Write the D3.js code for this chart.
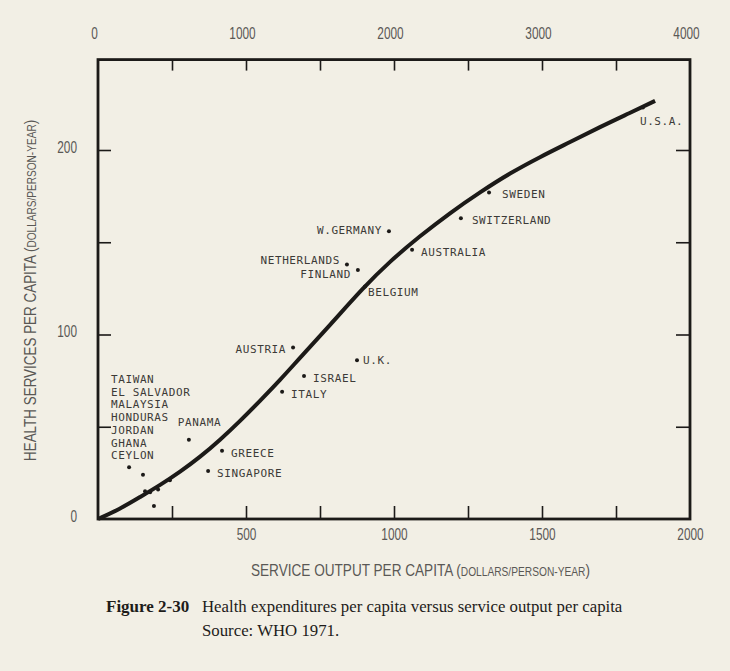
<!DOCTYPE html>
<html>
<head>
<meta charset="utf-8">
<script src="https://cdn.jsdelivr.net/npm/d3@7"></script>
<style>
  html, body { margin: 0; padding: 0; background: #f2efe5; }
  svg { display: block; }
</style>
</head>
<body>
<svg id="chart" width="730" height="671"></svg>
<script>
// ---- data ----
const countries = ["U.S.A.", "SWEDEN", "SWITZERLAND", "AUSTRALIA", "W.GERMANY", "NETHERLANDS",
  "FINLAND", "BELGIUM", "AUSTRIA", "U.K.", "ISRAEL", "ITALY", "PANAMA", "GREECE", "SINGAPORE"];
const serviceOutput = [1841, 1321, 1226, 1061, 983, 841, 878, 902, 659, 875, 696, 622, 307, 419, 372];
const healthSpend   = [223, 177, 163, 146, 156, 138, 135, 126, 93, 86, 77.5, 69, 43, 37, 26];
// label anchor side: "start" = right of point, "end" = left of point
const labelSide = ["below", "start", "start", "start", "end", "end", "end", "start", "end", "start",
  "start", "start", "above", "start", "start"];

const smallCountries = ["TAIWAN", "EL SALVADOR", "MALAYSIA", "HONDURAS", "JORDAN", "GHANA", "CEYLON"];
const smallOutput = [105, 152, 159, 203, 189, 243, 176];
const smallSpend  = [28, 24, 15, 16, 7, 21, 14.5];

const curveOutput = [0, 74, 142, 210, 277, 345, 412, 480, 547, 615, 682, 784, 895, 987, 1088, 1189, 1291, 1392, 1493, 1595, 1696, 1797, 1882];
const curveSpend  = [0, 5.4, 11.9, 18.4, 25.5, 33.6, 42.8, 53.1, 64, 75.3, 87.3, 105.1, 125.2, 139.8, 153.4, 165.9, 177.2, 187.5, 196.2, 204.3, 212.5, 220.1, 226.6];

const bottomTickLabels = [500, 1000, 1500, 2000];
const bottomMinorTicks = [250, 500, 750, 1000, 1250, 1500, 1750];
const topTickLabels = [0, 1000, 2000, 3000, 4000];
const topMinorTicks = [500, 1000, 1500, 2000, 2500, 3000, 3500];
const leftTickLabels = [0, 100, 200];
const sideTicks = [50, 100, 150, 200];

const xTitle = "SERVICE OUTPUT PER CAPITA ";
const yTitle = "HEALTH SERVICES PER CAPITA ";
const unitSmall = "DOLLARS/PERSON-YEAR";
const captionLabel = "Figure 2-30";
const captionText = "Health expenditures per capita versus service output per capita";
const captionSource = "Source: WHO 1971.";

// ---- layout ----
const svg = d3.select("#chart");
const leftX = 98, rightX = 690, bottomY = 519;
const x = d3.scaleLinear().domain([0, 2000]).range([leftX, rightX]);
const xTop = d3.scaleLinear().domain([0, 4000]).range([leftX, rightX]);
const y = d3.scaleLinear().domain([0, 200]).range([bottomY, 150]);
const yMax = 249;
const topY = y(yMax);

const ink = "#1c1a18";
const gray = "#5a5855";
const labelFont = "'DejaVu Sans Mono', monospace";
const tickFont = "'Liberation Sans', Arial, sans-serif";
// label horizontal gap from its point (style only)
const labelGap = { "BELGIUM": 3, "U.K.": 6, "SWEDEN": 13, "SWITZERLAND": 11 };

svg.append("rect").attr("width", 730).attr("height", 671).attr("fill", "#f2efe5");

// ticks (inside frame)
function styleTicks(g) {
  g.select(".domain").remove();
  g.selectAll(".tick line").attr("stroke", ink).attr("stroke-width", 1.6);
}
svg.append("g").attr("transform", `translate(0,${bottomY})`)
  .call(d3.axisTop(x).tickValues(bottomMinorTicks).tickSize(13).tickFormat(""))
  .call(styleTicks);
svg.append("g").attr("transform", `translate(0,${topY})`)
  .call(d3.axisBottom(xTop).tickValues(topMinorTicks).tickSize(11).tickFormat(""))
  .call(styleTicks);
svg.append("g").attr("transform", `translate(${leftX},0)`)
  .call(d3.axisRight(y).tickValues(sideTicks).tickSize(13).tickFormat(""))
  .call(styleTicks);
svg.append("g").attr("transform", `translate(${rightX},0)`)
  .call(d3.axisLeft(y).tickValues(sideTicks).tickSize(14).tickFormat(""))
  .call(styleTicks);

// tick labels (condensed look via horizontal scaling)
function styleLabels(g) {
  g.select(".domain").remove();
  g.selectAll(".tick line").remove();
  g.selectAll(".tick text").attr("fill", gray).attr("font-family", tickFont)
    .attr("font-size", 16)
    .attr("transform", "scale(0.74,1)");
}
svg.append("g").attr("transform", `translate(0,${bottomY + 10})`)
  .call(d3.axisBottom(x).tickValues(bottomTickLabels).tickSize(0).tickPadding(0).tickFormat(d3.format("d")))
  .call(styleLabels);
svg.append("g").attr("transform", `translate(-4,${topY - 21})`)
  .call(d3.axisTop(xTop).tickValues(topTickLabels).tickSize(0).tickPadding(0).tickFormat(d3.format("d")))
  .call(styleLabels);
svg.append("g").attr("transform", `translate(${leftX - 21},-3)`)
  .call(d3.axisLeft(y).tickValues(leftTickLabels).tickSize(0).tickPadding(0).tickFormat(d3.format("d")))
  .call(styleLabels);

// frame
svg.append("rect")
  .attr("x", leftX).attr("y", topY)
  .attr("width", rightX - leftX).attr("height", bottomY - topY)
  .attr("fill", "none").attr("stroke", ink).attr("stroke-width", 2.8);

// fitted curve
const curvePts = curveOutput.map((v, i) => [v, curveSpend[i]]);
svg.append("path")
  .datum(curvePts)
  .attr("fill", "none").attr("stroke", ink).attr("stroke-width", 4)
  .attr("stroke-linecap", "butt")
  .attr("d", d3.line().x(d => x(d[0])).y(d => y(d[1])).curve(d3.curveBasis));

// points
const pts = countries.map((c, i) => ({ c, vx: serviceOutput[i], vy: healthSpend[i], side: labelSide[i] }));
svg.append("g").selectAll("circle").data(pts).join("circle")
  .attr("cx", d => x(d.vx)).attr("cy", d => y(d.vy)).attr("r", 2).attr("fill", ink);

const small = smallCountries.map((c, i) => ({ c, vx: smallOutput[i], vy: smallSpend[i] }));
svg.append("g").selectAll("circle").data(small).join("circle")
  .attr("cx", d => x(d.vx)).attr("cy", d => y(d.vy)).attr("r", 2).attr("fill", ink);

// point labels
svg.append("g").selectAll("text").data(pts).join("text")
  .attr("font-family", labelFont).attr("font-size", 11).attr("letter-spacing", 0.6)
  .attr("fill", "#3c3a37")
  .attr("x", d => {
    const px = x(d.vx);
    if (d.side === "end") return px - 7;
    if (d.side === "below") return px - 3;
    if (d.side === "above") return px - 11;
    return px + (labelGap[d.c] !== undefined ? labelGap[d.c] : 9);
  })
  .attr("y", d => {
    const py = y(d.vy);
    if (d.side === "below") return py + 17;
    if (d.side === "above") return py - 14;
    if (d.c === "NETHERLANDS") return py;
    if (d.c === "FINLAND") return py + 8;
    if (d.c === "W.GERMANY") return py + 3;
    if (d.c === "BELGIUM") return py + 9;
    if (d.c === "U.K.") return py + 4;
    return py + 6;
  })
  .attr("text-anchor", d => d.side === "end" ? "end" : "start")
  .text(d => d.c);

// list of small countries
svg.append("g").selectAll("text").data(smallCountries).join("text")
  .attr("font-family", labelFont).attr("font-size", 11).attr("letter-spacing", 0.6)
  .attr("fill", "#3c3a37")
  .attr("x", 111)
  .attr("y", (d, i) => 383 + i * 12.7)
  .text(d => d);

// axis titles
function title(g, main) {
  const t = g.append("text").attr("font-family", tickFont).attr("font-size", 16).attr("fill", gray);
  t.append("tspan").text(main + "(");
  t.append("tspan").attr("font-size", 12).text(unitSmall);
  t.append("tspan").text(")");
}
title(svg.append("g").attr("transform", "translate(251,576) scale(0.85,1)"), xTitle);
title(svg.append("g").attr("transform", "translate(36,461) rotate(-90) scale(0.84,1)"), yTitle);

// caption
const serif = "'Liberation Serif', 'Times New Roman', serif";
svg.append("text").attr("x", 106).attr("y", 612)
  .attr("font-family", serif).attr("font-weight", "bold").attr("font-size", 17).attr("fill", "#1e1c1a")
  .text(captionLabel);
svg.append("text").attr("x", 202).attr("y", 612)
  .attr("font-family", serif).attr("font-size", 16.8).attr("fill", "#1e1c1a")
  .text(captionText);
svg.append("text").attr("x", 202).attr("y", 636)
  .attr("font-family", serif).attr("font-size", 16.8).attr("fill", "#1e1c1a")
  .text(captionSource);
</script>
</body>
</html>
